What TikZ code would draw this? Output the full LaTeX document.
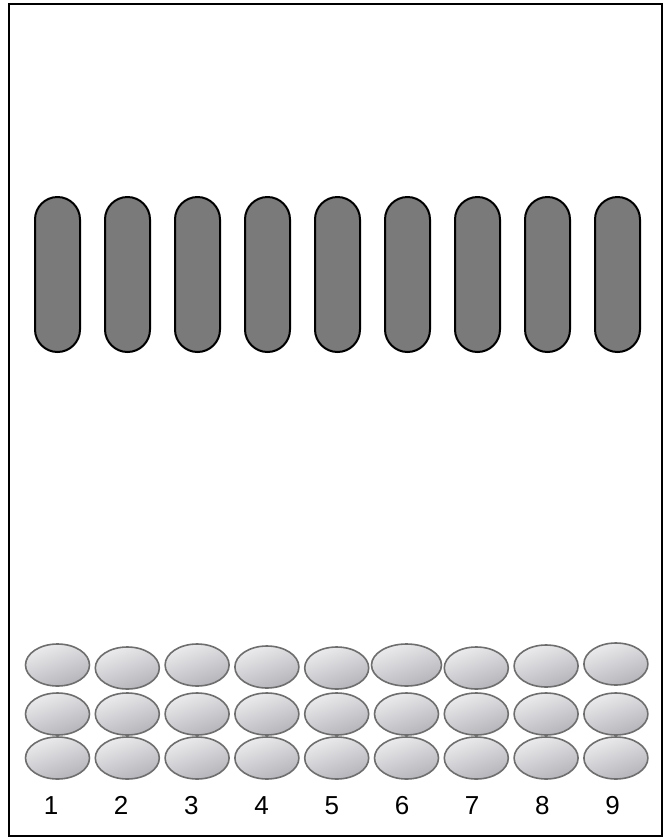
\documentclass[tikz,border=0pt]{standalone}
\usepackage{fontspec}
\setmainfont{Liberation Sans}
\definecolor{capsulefill}{HTML}{7A7A7A}
\definecolor{ovalline}{HTML}{6E6E6E}
\definecolor{ovaltop}{HTML}{ECECEE}
\definecolor{ovalbot}{HTML}{B4B3B9}
\tikzset{
  capsule/.style={draw=black, line width=2pt, fill=capsulefill, rounded corners=22.5pt},
  oval/.style={draw=ovalline, line width=1.6pt, ellipse, top color=ovaltop, bottom color=ovalbot, shading angle=20, minimum width=64pt, minimum height=42pt, inner sep=0pt},
  lanelabel/.style={font=\fontsize{26}{28}\selectfont, inner sep=0pt, anchor=base}
}
\usetikzlibrary{shapes.geometric}
\begin{document}
\begin{tikzpicture}[x=1pt,y=-1pt]
\useasboundingbox (0,0) rectangle (668,839);
\fill[white] (0,0) rectangle (668,839);
\draw[line width=2pt] (9,4) rectangle (662,836);
\foreach \i in {1,...,9}{
  \pgfmathsetmacro{\cx}{57.5+70*(\i-1)}
  \draw[capsule] (\cx-22.5,197) rectangle (\cx+22.5,352);
}
\foreach \i/\dy/\w in {1/-1/64, 2/2/64, 3/-1/64, 4/1/64, 5/2/64, 6/-1/70, 7/2/64, 8/0/64, 9/-2/64}{
  \pgfmathsetmacro{\cx}{57.5+69.8*(\i-1)}
  \node[oval, minimum width=\w pt] (a\i) at (\cx,666+\dy) {};
  \node[oval] (b\i) at (\cx,714) {};
  \node[oval] (c\i) at (\cx,758) {};
  \node[lanelabel] (l\i) at (51+70.2*\i-70.2,814) {\i};
}
\end{tikzpicture}
\end{document}
